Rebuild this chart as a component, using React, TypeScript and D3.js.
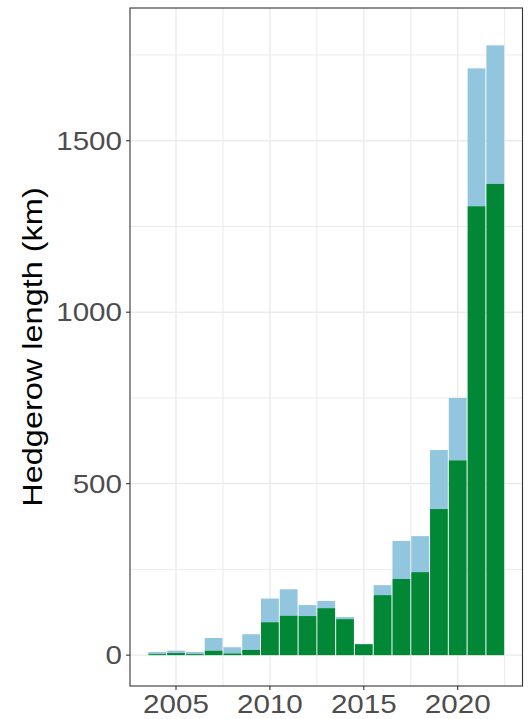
import React from "react";
import * as d3 from "d3";

// Data
const years = [2004, 2005, 2006, 2007, 2008, 2009, 2010, 2011, 2012, 2013, 2014, 2015, 2016, 2017, 2018, 2019, 2020, 2021, 2022];
const greenKm = [3, 6, 3, 13, 5, 15, 96, 115, 114, 137, 105, 32, 175, 222, 242, 426, 568, 1309, 1374];
const blueKm = [6, 7, 6, 37, 18, 46, 69, 77, 32, 21, 6, 0, 29, 111, 105, 172, 182, 402, 404];
const yMajorTicks = [0, 500, 1000, 1500];
const yMinorTicks = [250, 750, 1250, 1750];
const xMajorTicks = [2005, 2010, 2015, 2020];
const xMinorTicks = [2007.5, 2012.5, 2017.5, 2022.5];
const yTitle = "Hedgerow length (km)";

const W = 529;
const H = 719;
const panel = { left: 130, right: 522.5, top: 8, bottom: 686 };

const GREEN = "#008837";
const BLUE = "#92C5DE";
const GRID = "#EBEBEB";
const FONT = "'Liberation Sans', Arial, Helvetica, sans-serif";
const STRETCH = 1.16;

export default function App() {
  const x = d3.scaleLinear().domain([2002.55, 2023.45]).range([panel.left, panel.right]);
  const y = d3.scaleLinear().domain([-90, 1887]).range([panel.bottom, panel.top]);
  const step = x(1) - x(0);

  const stacked = years.map((yr, i) => ({
    year: yr,
    g0: 0,
    g1: greenKm[i],
    b0: greenKm[i],
    b1: greenKm[i] + blueKm[i],
  }));

  return (
    <svg width={W} height={H} style={{ position: "absolute", left: 0, top: 0, background: "#fff" }}>
      <defs>
        <clipPath id="panelClip">
          <rect x={panel.left} y={panel.top} width={panel.right - panel.left} height={panel.bottom - panel.top} />
        </clipPath>
      </defs>
      <rect x={0} y={0} width={W} height={H} fill="#fff" />
      <g clipPath="url(#panelClip)">
        {yMinorTicks.map((v) => (
          <line key={"ym" + v} x1={panel.left} x2={panel.right} y1={y(v)} y2={y(v)} stroke={GRID} strokeWidth={1} />
        ))}
        {xMinorTicks.map((v) => (
          <line key={"xm" + v} y1={panel.top} y2={panel.bottom} x1={x(v)} x2={x(v)} stroke={GRID} strokeWidth={1} />
        ))}
        {yMajorTicks.map((v) => (
          <line key={"yM" + v} x1={panel.left} x2={panel.right} y1={y(v)} y2={y(v)} stroke={GRID} strokeWidth={1.4} />
        ))}
        {xMajorTicks.map((v) => (
          <line key={"xM" + v} y1={panel.top} y2={panel.bottom} x1={x(v)} x2={x(v)} stroke={GRID} strokeWidth={1.4} />
        ))}
        {stacked.map((d) => {
          const bx = x(d.year - 0.5) + 0.5;
          const bw = step - 1;
          return (
            <g key={d.year}>
              {d.b1 > d.b0 && (
                <rect x={bx} width={bw} y={y(d.b1)} height={y(d.b0) - y(d.b1)} fill={BLUE} />
              )}
              <rect x={bx} width={bw} y={y(d.g1)} height={y(d.g0) - y(d.g1)} fill={GREEN} />
            </g>
          );
        })}
      </g>
      <rect
        x={panel.left}
        y={panel.top}
        width={panel.right - panel.left}
        height={panel.bottom - panel.top}
        fill="none"
        stroke="#333333"
        strokeWidth={1.1}
      />
      {yMajorTicks.map((v) => (
        <g key={"yt" + v}>
          <line x1={panel.left - 4} x2={panel.left} y1={y(v)} y2={y(v)} stroke="#333333" strokeWidth={1.1} />
          <text
            transform={`translate(${panel.left - 8},${y(v) + 9}) scale(${STRETCH},1)`}
            textAnchor="end"
            fontFamily={FONT}
            fontSize={25.5}
            fill="#4D4D4D"
          >
            {v}
          </text>
        </g>
      ))}
      {xMajorTicks.map((v) => (
        <g key={"xt" + v}>
          <line x1={x(v)} x2={x(v)} y1={panel.bottom} y2={panel.bottom + 4} stroke="#333333" strokeWidth={1.1} />
          <text
            transform={`translate(${x(v)},${713}) scale(${STRETCH},1)`}
            textAnchor="middle"
            fontFamily={FONT}
            fontSize={25.5}
            fill="#4D4D4D"
          >
            {v}
          </text>
        </g>
      ))}
      <text
        transform={`translate(42,${(panel.top + panel.bottom) / 2}) rotate(-90) scale(${STRETCH},1)`}
        textAnchor="middle"
        fontFamily={FONT}
        fontSize={28}
        fill="#000"
      >
        {yTitle}
      </text>
    </svg>
  );
}
